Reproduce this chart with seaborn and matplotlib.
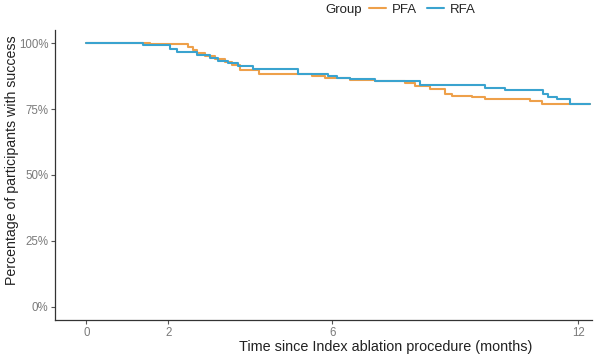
import pandas as pd
import numpy as np
import matplotlib
matplotlib.use('Agg')
import matplotlib.pyplot as plt
from matplotlib.lines import Line2D
import seaborn as sns

# Kaplan-Meier style step curves (months, % with success)
pfa_time = [0, 1.56, 2.49, 2.59, 2.71, 2.90, 3.15, 3.39, 3.56, 3.76, 4.20, 5.51, 5.83,
            6.44, 7.05, 7.78, 8.02, 8.39, 8.76, 8.93, 9.41, 9.73, 10.83, 11.12, 12.29]
pfa_pct = [100, 99.6, 98.5, 97.4, 96.2, 95.1, 94.0, 92.8, 91.7, 89.8, 88.3, 87.5, 86.8,
           86.0, 85.7, 84.9, 83.8, 82.6, 80.8, 80.0, 79.6, 78.9, 78.1, 77.0, 77.0]

rfa_time = [0, 1.39, 2.05, 2.22, 2.71, 3.02, 3.22, 3.46, 3.71, 4.07, 5.17, 5.90,
            6.12, 6.44, 7.05, 8.14, 9.73, 10.22, 11.15, 11.27, 11.47, 11.80, 12.29]
rfa_pct = [100, 99.2, 97.7, 96.6, 95.5, 94.3, 93.2, 92.5, 91.3, 90.2, 88.3, 87.5,
           86.8, 86.4, 85.7, 84.2, 83.0, 82.3, 80.8, 79.6, 78.9, 77.0, 77.0]

groups = ['PFA', 'RFA']
colors = {'PFA': '#EEA04A', 'RFA': '#3AA3CF'}
x_ticks = [0, 2, 6, 12]
y_ticks = [0, 25, 50, 75, 100]
y_labels = ['0%', '25%', '50%', '75%', '100%']

df = pd.concat([
    pd.DataFrame({'time': pfa_time, 'pct': pfa_pct, 'group': 'PFA'}),
    pd.DataFrame({'time': rfa_time, 'pct': rfa_pct, 'group': 'RFA'}),
], ignore_index=True)

sns.set_style('white')
plt.rcParams['font.family'] = ['Liberation Sans', 'DejaVu Sans']

fig = plt.figure(figsize=(6, 3.57), dpi=100)
ax = fig.add_axes([0.092, 0.104, 0.895, 0.812])

sns.lineplot(data=df, x='time', y='pct', hue='group', hue_order=groups, palette=colors,
             drawstyle='steps-post', estimator=None, linewidth=1.5, legend=False, ax=ax)

ax.set_xlim(-0.76, 12.34)
ax.set_ylim(-5, 105)
ax.set_xticks(x_ticks)
ax.set_yticks(y_ticks)
ax.set_yticklabels(y_labels)
ax.tick_params(axis='both', labelsize=8.3, labelcolor='#7a7a7a', color='#555555',
               length=3, width=0.8, pad=2, left=True, bottom=True)
sns.despine(ax=ax)
for s in ['left', 'bottom']:
    ax.spines[s].set_color('#333333')
    ax.spines[s].set_linewidth(0.9)

ax.set_xlabel('Time since Index ablation procedure (months)', fontsize=10.4, color='#222222')
ax.xaxis.set_label_coords(0.615, -0.068)
ax.set_ylabel('Percentage of participants with success', fontsize=10.2, color='#222222')
ax.yaxis.set_label_coords(-0.067, 0.55)

fig.text(0.542, 0.972, 'Group', fontsize=9.5, color='#222222', va='center', ha='left')
handles = [Line2D([0], [0], color=colors[g], lw=1.5) for g in groups]
fig.legend(handles, groups, loc='center left', bbox_to_anchor=(0.615, 0.972), ncol=2,
           frameon=False, fontsize=9.5, handlelength=1.3, handletextpad=0.4,
           columnspacing=0.8, borderaxespad=0, borderpad=0)

fig.savefig('out.png', dpi=100)
